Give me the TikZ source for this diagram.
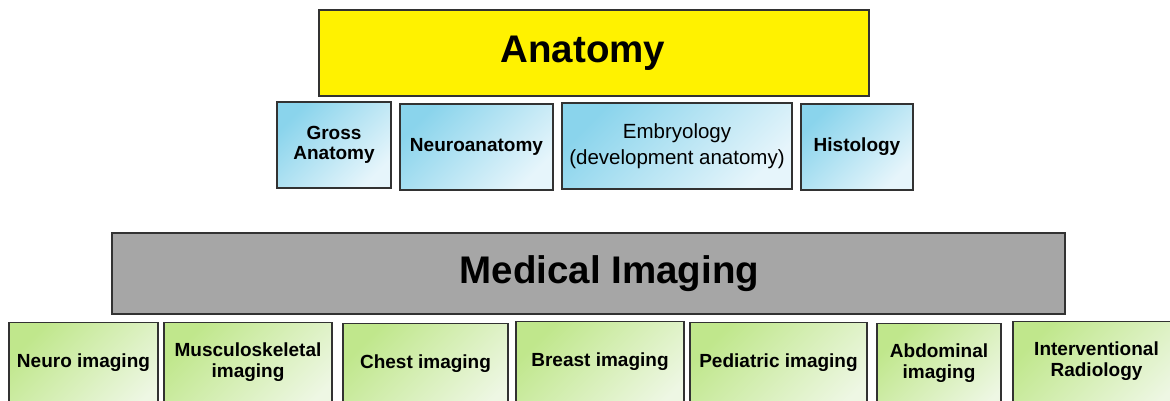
\documentclass[tikz,border=0pt]{standalone}
\usepackage{fontspec}
\setmainfont{Liberation Sans}
\usepackage{tikz}
\definecolor{anatblue}{RGB}{138,212,236}
\definecolor{anatlight}{RGB}{230,245,251}
\definecolor{imggreen}{RGB}{192,231,140}
\definecolor{imglight}{RGB}{238,247,228}
\definecolor{boxline}{RGB}{50,50,50}

\begin{document}
\begin{tikzpicture}[x=1pt,y=-1pt,
  titlebox/.style={draw=boxline, line width=1.3pt, inner sep=0pt,
    font=\fontsize{38.5pt}{44pt}\selectfont\bfseries},
  subbox/.style={draw=boxline, line width=1.2pt, inner sep=2pt, align=center,
    minimum height=86pt, top color=anatblue, bottom color=anatlight, shading angle=45,
    font=\fontsize{19pt}{20pt}\selectfont\bfseries},
  imgbox/.style={draw=boxline, line width=1.2pt, inner sep=2pt, align=center, anchor=north,
    minimum height=100pt, text depth=24pt, top color=imggreen, bottom color=imglight, shading angle=45,
    font=\fontsize{19pt}{21pt}\selectfont\bfseries}]
  \useasboundingbox[fill=white] (0,0) rectangle (1170,400);

  \node[titlebox, fill=yellow, minimum width=550pt, minimum height=86pt] (anatomy) at (594,53) {Anatomy\kern22pt};
  \node[subbox, minimum width=114pt] (gross) at (334,145) {Gross\\Anatomy};
  \node[subbox, minimum width=153pt] (neuroanat) at (476.5,147) {Neuroanatomy};
  \node[subbox, minimum width=230pt, font=\fontsize{20.5pt}{26pt}\selectfont] (embryo) at (677,146) {Embryology\\(development anatomy)};
  \node[subbox, minimum width=112pt] (histo) at (857,147) {Histology};

  \node[titlebox, fill=black!35, minimum width=953pt, minimum height=81pt] (imaging) at (588.5,273.5) {\kern42pt Medical Imaging};
  \node[imgbox, minimum width=149pt] (neuroimg) at (83.5,322) {Neuro imaging};
  \node[imgbox, minimum width=168pt] (musculo) at (248,322) {Musculoskeletal\\imaging};
  \node[imgbox, minimum width=165pt] (chest) at (425.5,323) {Chest imaging};
  \node[imgbox, minimum width=168pt] (breast) at (600,321) {Breast imaging};
  \node[imgbox, minimum width=177pt] (pediatric) at (778.5,322) {Pediatric imaging};
  \node[imgbox, minimum width=124pt] (abdominal) at (939,323) {Abdominal\\imaging};
  \node[imgbox, minimum width=167pt] (interv) at (1096.5,321) {Interventional\\Radiology};
\end{tikzpicture}
\end{document}
